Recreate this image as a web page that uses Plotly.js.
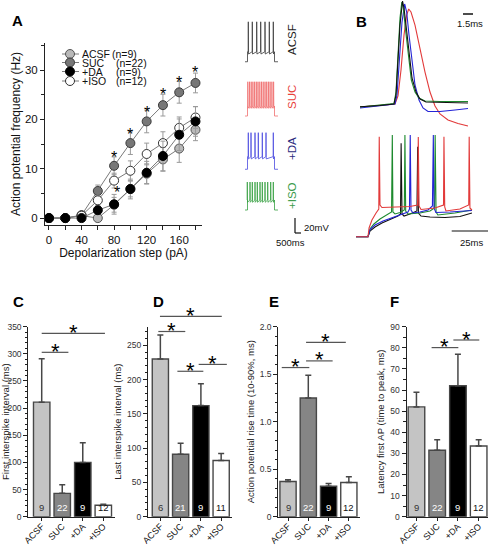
<!DOCTYPE html>
<html>
<head>
<meta charset="utf-8">
<script src="https://cdn.plot.ly/plotly-3.0.1.min.js"></script>
<style>
html,body{margin:0;padding:0;background:#fff;}
#fig{width:490px;height:547px;}
</style>
</head>
<body>
<div id="fig"></div>
<script>
// ================= DATA =================
// Panel A: firing frequency vs depolarization step
const stepsPA = [0,20,40,60,80,100,120,140,160,180];
const hzACSF  = [0,0,0.5,0,2.7,5.9,9.0,11.9,14.1,17.9];
const errACSF = [0,0,0.3,0.3,1.5,1.6,2.0,2.4,2.8,2.2];
const hzSUC   = [0,0,0.6,5.5,10.6,15.2,19.6,22.9,25.5,27.4];
const errSUC  = [0,0,0.3,1.2,1.8,2.3,2.3,2.2,2.2,2.0];
const hzDA    = [0,0,0,1.6,2.8,5.9,9.2,12.6,16.9,19.6];
const errDA   = [0,0,0,0.8,2.0,2.0,2.3,3.0,3.2,3.0];
const hzISO   = [0,0,0.5,3.6,7.6,9.6,13.0,15.2,18.3,20.4];
const errISO  = [0,0,0.3,1.0,1.5,2.0,2.2,2.3,2.2,2.2];
const seriesNames = ['ACSF','SUC','+DA','+ISO'];
const seriesN = ['(n=9)','(n=22)','(n=9)','(n=12)'];
const starStepsSUC = [80,100,120,140,160,180];
const starHzSUC    = [13.1,17.7,22.2,25.8,28.4,30.3];
const starStepsISO = [84];
const starHzISO    = [6.0];

// Panel A example spike trains (ms, mV)
const stepTimes = [0,250,2950,3300];           // start, step on, step off, end
const spikesACSF = [330,730,1170,1570,2000,2430,2830];
const spikesSUC  = [280,450,620,790,960,1130,1300,1480,1650,1820,2000,2170,2340,2510,2690,2860];
const spikesDA   = [330,600,1000,1330,1730,2100,2830];
const spikesISO  = [230,500,730,1000,1230,1500,1730,2000,2270,2570,2830];
const levelsACSF = [-65,-51.7,-11.7];          // baseline, plateau, spike peak
const levelsSUC  = [-65,-51.7,-19.3];
const levelsDA   = [-65,-48.2,-16.2];
const levelsISO  = [-65,-51.7,-27.7];

// Panel B top: single action potentials (ms, mV)
const apT_ACSF = [0,3,5.1,5.4,5.7,6.0,6.38,6.6,6.9,7.35,7.8,8.4,9.0,9.9,12.0,16.2];
const apV_ACSF = [-60,-59,-57.6,-49.8,-19.2,11.4,32.4,26.3,11.4,-14.8,-34.9,-47.2,-53.3,-55.9,-56.3,-56.8];
const apT_ISO  = [0,3,5.1,5.4,5.7,6.0,6.27,6.5,6.8,7.3,7.7,8.25,8.85,9.75,12,16.2];
const apV_ISO  = [-60.3,-58.5,-57.2,-47.2,-14.8,17.5,31.5,26.3,8.8,-17.4,-36.7,-47.2,-52.4,-55,-55.5,-55.5];
const apT_DA   = [0,3,5.25,5.55,5.9,6.3,6.7,7.0,7.35,7.8,8.25,8.85,9.45,10.2,12,14.25,16.2];
const apV_DA   = [-61.1,-59.4,-57.6,-49.8,-19.2,14,29.8,22.8,2.7,-20.9,-41,-54.1,-61.1,-64.2,-64.2,-62.9,-61.6];
const apT_SUC  = [0,3,5.25,5.7,6.15,6.6,7.0,7.3,7.65,8.25,9.0,9.75,10.5,11.25,12,13.2,14.7,16.2];
const apV_SUC  = [-60.3,-59,-57.6,-50.6,-27.9,2.7,20.1,25.4,22.8,11.4,-10.4,-29.7,-47.2,-59.4,-66.4,-71.6,-74.7,-76.9];

// Panel B bottom: onset of firing (ms, mV)
const trT_SUC = [0,7.9,8.6,10.5,13.2,15.0,15.3,15.8,17.1,25.7,35.5,40.5,41.0,41.5,42.8,52.0,57.6,57.9,58.4,59.2,68.4,74.2,74.5,75.0,76.3];
const trV_SUC = [-70,-70,-63,-56.6,-51,-47.8,10,-44.6,-46.6,-46.2,-45.8,-44.6,9.8,-45.4,-48.2,-47,-44.6,10,-46.2,-49.4,-47.8,-44.6,10,-47,-48.6];
const trT_ISO = [0,7.9,9.2,11.8,15.8,19.7,23.4,23.9,24.3,25.7,29.0,31.8,32.2,32.7,34.2,42.1,48.7,51.7,52.1,52.7,53.9,65.1,76.3];
const trV_ISO = [-70,-70,-63.8,-59.8,-55.8,-53,-50.2,11.4,-50.2,-51.8,-50.6,-48.6,11.4,-49.4,-51.8,-51,-49.4,-47,11.4,-50.2,-52.6,-51,-48.6];
const trT_ACSF = [0,7.9,9.2,12.5,17.1,22.4,27.6,29.3,29.7,30.3,31.6,35.5,40.1,40.6,41.1,42.8,48.7,58.6,68.4,76.3];
const trV_ACSF = [-70,-70,-65.4,-62.2,-59,-56.2,-53.4,-51.8,4.7,-51.8,-53.4,-51.8,-49.4,2,-51,-53.4,-54.2,-54.6,-53.8,-51];
const trT_DA = [0,7.9,9.2,12.5,17.8,24.3,30.3,34.2,35.2,35.7,36.2,37.5,42.1,47.4,50.3,50.9,51.3,52.6,61.9,76.3];
const trV_DA = [-70,-70,-64.2,-60.6,-57.4,-54.6,-52.2,-50.2,-47.8,11.4,-48.6,-51,-50.2,-48.6,-45.4,11.4,-47,-50.6,-50.2,-49];

// Panels C-F: bar charts
const groups = ['ACSF','SUC','+DA','+ISO'];
const firstISI = [211,43,100,21];
const firstISIerr = [80,16,36,2];
const nFirst = [9,22,9,12];
const lastISI = [230,91,162,82];
const lastISIerr = [35,16,32,10];
const nLast = [6,21,9,11];
const riseTime = [0.37,1.25,0.32,0.36];
const riseErr = [0.02,0.24,0.03,0.06];
const nRise = [9,22,9,12];
const latency = [52,31.5,62,33.5];
const latencyErr = [7,5,15,3];
const nLat = [9,22,9,12];
// significance comparisons: [from index, to index, level]
const sigC = [[0,1,302.8],[0,3,337.7]];
const sigD = [[0,1,270],[0,3,292],[1,2,212],[2,3,222]];
const sigE = [[0,1,1.57],[1,2,1.64],[1,3,1.835]];
const sigF = [[1,2,80.1],[2,3,83.7]];

// ================= LAYOUT HELPERS =================
const FONT = 'Liberation Sans, Arial, Helvetica, sans-serif';
const W = 490, H = 547;
const xDom = (l, r) => [l / W, r / W];
const yDom = (t, b) => [1 - b / H, 1 - t / H];
const toPaper = (d, r, v) => d[0] + (v - r[0]) / (r[1] - r[0]) * (d[1] - d[0]);
const AX = '#222';

const traces = [];
const shapes = [];
const annotations = [];
const layout = {
  width: W, height: H,
  margin: {l: 0, r: 0, t: 0, b: 0},
  paper_bgcolor: '#fff', plot_bgcolor: 'rgba(0,0,0,0)',
  font: {family: FONT, color: '#111', size: 11},
  showlegend: false
};

// ---------- Panel A ----------
layout.xaxis = {domain: xDom(45, 202), range: [-4.9, 188], anchor: 'y',
  tick0: 0, dtick: 40, ticks: 'outside', ticklen: 4, tickcolor: AX,
  minor: {tick0: 0, dtick: 20, ticks: 'outside', ticklen: 4, tickcolor: AX},
  showline: true, linecolor: AX, linewidth: 1, zeroline: false, showgrid: false,
  tickfont: {size: 11.5}, title: {text: 'Depolarization step (pA)', font: {size: 12}, standoff: 2}};
layout.yaxis = {domain: yDom(43, 225), range: [-1.4, 35.5], anchor: 'x',
  tick0: 0, dtick: 10, ticks: 'outside', ticklen: 4, tickcolor: AX,
  minor: {tick0: 0, dtick: 5, ticks: 'outside', ticklen: 3, tickcolor: AX},
  showline: true, linecolor: AX, linewidth: 1, zeroline: false, showgrid: false,
  tickfont: {size: 11.5}, title: {text: 'Action potential frequency (Hz)', font: {size: 12}, standoff: 1}};

const aStyle = [
  {fill: '#b9b9b9', edge: '#555'},
  {fill: '#777777', edge: '#3a3a3a'},
  {fill: '#000000', edge: '#000'},
  {fill: '#ffffff', edge: '#333'}
];
const aSeries = [[hzACSF, errACSF], [hzSUC, errSUC], [hzISO, errISO], [hzDA, errDA]];
const aStyleIdx = [0, 1, 3, 2];
aSeries.forEach((s, k) => {
  const st = aStyle[aStyleIdx[k]];
  traces.push({type: 'scatter', mode: 'lines+markers', x: stepsPA, y: s[0], xaxis: 'x', yaxis: 'y',
    line: {color: '#7a7a7a', width: 1},
    marker: {size: 9, color: st.fill, line: {color: st.edge, width: 1}},
    error_y: {type: 'data', array: s[1], visible: true, color: '#9a9a9a', thickness: 1, width: 2.5},
    cliponaxis: false});
});
starStepsSUC.forEach((s, i) => annotations.push({xref: 'x', yref: 'y', x: s, y: starHzSUC[i], text: '*',
  showarrow: false, font: {size: 16, color: '#000'}, yanchor: 'middle', yshift: -4}));
starStepsISO.forEach((s, i) => annotations.push({xref: 'x', yref: 'y', x: s, y: starHzISO[i], text: '*',
  showarrow: false, font: {size: 16, color: '#000'}, yanchor: 'middle', yshift: -4}));

// Legend of panel A (drawn by hand, as in the figure)
const legRows = [54, 62.5, 71.5, 81];
seriesNames.forEach((nm, i) => {
  const ry = legRows[i];
  const st = aStyle[i];
  shapes.push({type: 'line', xref: 'paper', yref: 'paper', x0: 62 / W, x1: 79 / W, y0: 1 - ry / H, y1: 1 - ry / H,
    line: {color: '#7a7a7a', width: 1}});
  shapes.push({type: 'circle', xref: 'paper', yref: 'paper', x0: 65.5 / W, x1: 74.5 / W, y0: 1 - (ry + 4.5) / H, y1: 1 - (ry - 4.5) / H,
    fillcolor: st.fill, line: {color: st.edge, width: 1}});
  annotations.push({xref: 'paper', yref: 'paper', x: 80 / W, y: 1 - ry / H, xanchor: 'left', yanchor: 'middle',
    text: nm, showarrow: false, font: {size: 10.5}});
  annotations.push({xref: 'paper', yref: 'paper', x: (i === 0 ? 110 : 114) / W, y: 1 - ry / H, xanchor: 'left', yanchor: 'middle',
    text: seriesN[i], showarrow: false, font: {size: 10.5}});
});

// Example traces of panel A
function spikeTrain(times, lv) {
  const t = [stepTimes[0], stepTimes[1], stepTimes[1]];
  const v = [lv[0], lv[0], lv[1]];
  times.forEach(s => { t.push(s - 15, s, s + 25); v.push(lv[1], lv[2], lv[1] - 3); });
  t.push(stepTimes[2], stepTimes[2], stepTimes[3]);
  v.push(lv[1], lv[0], lv[0]);
  return {t, v};
}
const trains = [
  {sp: spikesACSF, lv: levelsACSF, col: '#3a3a3a', dom: [18.5, 65.5], lab: 'ACSF', labCol: '#222', labY: 40},
  {sp: spikesSUC, lv: levelsSUC, col: '#f07070', dom: [72.75, 119.75], lab: 'SUC', labCol: '#e8413b', labY: 97},
  {sp: spikesDA, lv: levelsDA, col: '#4a4ae0', dom: [126, 173], lab: '+DA', labCol: '#2b2b80', labY: 149},
  {sp: spikesISO, lv: levelsISO, col: '#35a040', dom: [166.75, 213.75], lab: '+ISO', labCol: '#3a9a4a', labY: 196}
];
trains.forEach((tr, k) => {
  const n = k + 2;
  const d = spikeTrain(tr.sp, tr.lv);
  layout['xaxis' + n] = {domain: xDom(243, 283), range: [-200, 3800], visible: false, anchor: 'y' + n};
  layout['yaxis' + n] = {domain: yDom(tr.dom[0], tr.dom[1]), range: [-70, -7.3], visible: false, anchor: 'x' + n};
  traces.push({type: 'scatter', mode: 'lines', x: d.t, y: d.v, xaxis: 'x' + n, yaxis: 'y' + n,
    line: {color: tr.col, width: 0.8}});
  annotations.push({xref: 'paper', yref: 'paper', x: 292 / W, y: 1 - tr.labY / H, text: tr.lab, textangle: -90,
    showarrow: false, xanchor: 'center', yanchor: 'middle', font: {size: 11.5, color: tr.labCol}});
});
// scale bar A
shapes.push({type: 'line', xref: 'paper', yref: 'paper', x0: 295 / W, x1: 295 / W, y0: 1 - 233 / H, y1: 1 - 218 / H, line: {color: '#111', width: 1.2}});
shapes.push({type: 'line', xref: 'paper', yref: 'paper', x0: 295 / W, x1: 301 / W, y0: 1 - 233 / H, y1: 1 - 233 / H, line: {color: '#111', width: 1.2}});
annotations.push({xref: 'paper', yref: 'paper', x: 302 / W, y: 1 - 227 / H, text: '20mV', showarrow: false, xanchor: 'left', yanchor: 'middle', font: {size: 9.5}});
annotations.push({xref: 'paper', yref: 'paper', x: 290 / W, y: 1 - 242 / H, text: '500ms', showarrow: false, xanchor: 'center', yanchor: 'middle', font: {size: 9.5}});

// ---------- Panel B ----------
layout.xaxis6 = {domain: xDom(355, 475), range: [-0.75, 17.25], visible: false, anchor: 'y6'};
layout.yaxis6 = {domain: yDom(0, 130), range: [-80.4, 33.3], visible: false, anchor: 'x6'};
layout.xaxis7 = {domain: xDom(352, 490), range: [-2.63, 88.2], visible: false, anchor: 'y7'};
layout.yaxis7 = {domain: yDom(130, 240), range: [-72.6, 15.4], visible: false, anchor: 'x7'};
const colB = {ACSF: '#111111', SUC: '#e23a3a', DA: '#2424d6', ISO: '#1d8a2e'};
[[apT_SUC, apV_SUC, colB.SUC], [apT_DA, apV_DA, colB.DA], [apT_ISO, apV_ISO, colB.ISO], [apT_ACSF, apV_ACSF, colB.ACSF]]
  .forEach(a => traces.push({type: 'scatter', mode: 'lines', x: a[0], y: a[1], xaxis: 'x6', yaxis: 'y6', line: {color: a[2], width: 1.1}}));
[[trT_ACSF, trV_ACSF, colB.ACSF], [trT_ISO, trV_ISO, colB.ISO], [trT_DA, trV_DA, colB.DA], [trT_SUC, trV_SUC, colB.SUC]]
  .forEach(a => traces.push({type: 'scatter', mode: 'lines', x: a[0], y: a[1], xaxis: 'x7', yaxis: 'y7', line: {color: a[2], width: 1.1}}));
shapes.push({type: 'line', xref: 'paper', yref: 'paper', x0: 463 / W, x1: 473 / W, y0: 1 - 14 / H, y1: 1 - 14 / H, line: {color: '#111', width: 1.5}});
annotations.push({xref: 'paper', yref: 'paper', x: 469.5 / W, y: 1 - 23 / H, text: '1.5ms', showarrow: false, xanchor: 'center', yanchor: 'middle', font: {size: 9.5}});
shapes.push({type: 'line', xref: 'paper', yref: 'paper', x0: 451.7 / W, x1: 488 / W, y0: 1 - 231 / H, y1: 1 - 231 / H, line: {color: '#111', width: 1.2}});
annotations.push({xref: 'paper', yref: 'paper', x: 471 / W, y: 1 - 242 / H, text: '25ms', showarrow: false, xanchor: 'center', yanchor: 'middle', font: {size: 9.5}});

// ---------- Panels C-F ----------
const barFill = ['#c4c4c4', '#858585', '#000000', '#ffffff'];
const nCol = ['#333', '#fff', '#fff', '#111'];
// line end offsets (category units) relative to the compared bars
const bottom = [
  {n: 8, xd: [28.3, 115], xr: [-0.653, 3.57], yr: [0, 350], dt: 50, mdt: 10, title: 'First interspike interval (ms)', so: 1,
   vals: firstISI, errs: firstISIerr, cnt: nFirst, sig: sigC, ext: [[0, 0.3], [0, 0.08]]},
  {n: 9, xd: [148, 231.7], xr: [-0.61, 3.52], yr: [0, 277], dt: 50, mdt: 10, title: 'Last interspike interval (ms)', so: 3,
   vals: lastISI, errs: lastISIerr, cnt: nLast, sig: sigD, ext: [[-0.1, 0.23], [-0.02, 0.03], [-0.16, 0.12], [-0.11, 0.28]]},
  {n: 10, xd: [278.3, 360], xr: [-0.48, 3.55], yr: [0, 2], dt: 0.5, mdt: 0.1, title: 'Action potential rise time (10-90%, ms)', so: 3,
   vals: riseTime, errs: riseErr, cnt: nRise, sig: sigE, ext: [[-0.31, 0.05], [-0.11, 0.2], [-0.11, -0.15]],
   tv: [0, 0.5, 1, 1.5, 2], tt: ['0', '0.5', '1.0', '1.5', '2.0']},
  {n: 11, xd: [406.5, 488], xr: [-0.48, 3.45], yr: [0, 90], dt: 10, mdt: 5, title: 'Latency first AP (time to peak, ms)', so: 3,
   vals: latency, errs: latencyErr, cnt: nLat, sig: sigF, ext: [[-0.27, 0.02], [-0.22, 0.03]]}
];
const yDomB = yDom(326.7, 516.7);
bottom.forEach(p => {
  const xa = 'x' + p.n, ya = 'y' + p.n;
  const xd = xDom(p.xd[0], p.xd[1]);
  layout['xaxis' + p.n] = {domain: xd, range: p.xr, anchor: ya,
    tickmode: 'array', tickvals: [0, 1, 2, 3], ticktext: groups, tickangle: -45, ticklabelstandoff: -3,
    ticks: 'outside', ticklen: 3, tickcolor: AX, showline: true, linecolor: AX, linewidth: 1,
    zeroline: false, showgrid: false, tickfont: {size: 9, color: '#111'}};
  const yax = {domain: yDomB, range: p.yr, anchor: xa,
    ticks: 'outside', ticklen: 4, tickcolor: AX,
    minor: {tickmode: 'linear', tick0: 0, dtick: p.mdt, ticks: 'outside', ticklen: 2.5, tickcolor: AX},
    showline: true, linecolor: AX, linewidth: 1, zeroline: false, showgrid: false,
    tickfont: {size: 8.5, color: '#333'},
    title: {text: p.title, font: {size: 9.5, color: '#222'}, standoff: p.so}};
  if (p.tv) { yax.tickmode = 'array'; yax.tickvals = p.tv; yax.ticktext = p.tt; }
  else { yax.tick0 = 0; yax.dtick = p.dt; }
  layout['yaxis' + p.n] = yax;
  traces.push({type: 'bar', x: [0, 1, 2, 3], y: p.vals, xaxis: xa, yaxis: ya, width: 0.8,
    marker: {color: barFill, line: {color: '#474747', width: 1.4}},
    error_y: {type: 'data', symmetric: false, array: p.errs, arrayminus: [0, 0, 0, 0], color: '#474747', thickness: 1.5, width: 3}});
  p.cnt.forEach((c, i) => annotations.push({xref: xa, yref: ya + ' domain', x: i, y: 0, yanchor: 'bottom', yshift: 2,
    text: String(c), showarrow: false, font: {size: 9.5, color: nCol[i]}}));
  p.sig.forEach((s, k) => {
    const e = p.ext[k];
    const xa0 = toPaper(xd, p.xr, s[0] + e[0]);
    const xa1 = toPaper(xd, p.xr, s[1] + e[1]);
    const yy = toPaper(yDomB, p.yr, s[2]);
    shapes.push({type: 'line', xref: 'paper', yref: 'paper', x0: xa0, x1: xa1, y0: yy, y1: yy, line: {color: '#555', width: 1.2}});
    annotations.push({xref: 'paper', yref: 'paper', x: (xa0 + xa1) / 2, y: yy, text: '*', showarrow: false,
      xanchor: 'center', yanchor: 'middle', yshift: 1, font: {size: 22, color: '#000'}});
  });
});

// Panel letters
[['A', 17.5, 20], ['B', 361.7, 21.7], ['C', 18, 301.7], ['D', 158.3, 301.7], ['E', 274, 301.7], ['F', 394, 301.7]]
  .forEach(l => annotations.push({xref: 'paper', yref: 'paper', x: l[1] / W, y: 1 - l[2] / H, text: '<b>' + l[0] + '</b>',
    showarrow: false, xanchor: 'center', yanchor: 'middle', font: {size: 15, color: '#000'}}));

layout.shapes = shapes;
layout.annotations = annotations;
Plotly.newPlot('fig', traces, layout, {staticPlot: true, displayModeBar: false});
</script>
</body>
</html>
